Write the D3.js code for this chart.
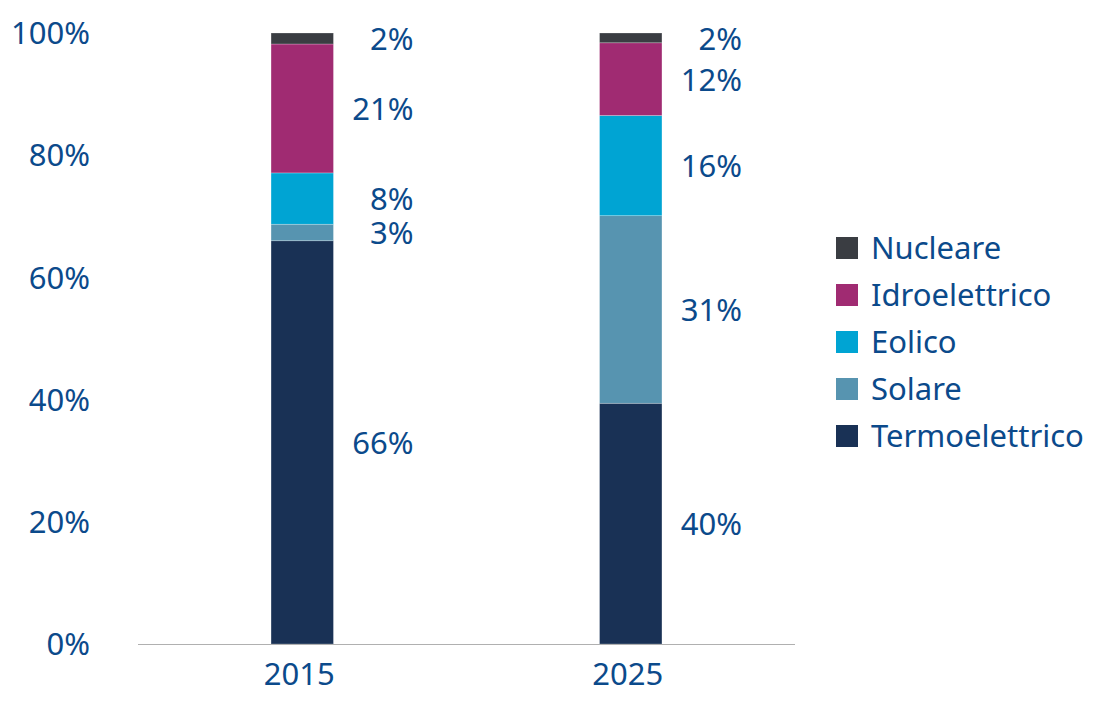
<!doctype html>
<html>
<body>
<style type="text/css">
    html,body{
        margin: 0;
        overflow: hidden;
        background: #fff;
    }
    text {
        font-family: "Noto Sans", Lato, sans-serif;
        fill: #0b4a8b;
    }
</style>
<script src="https://cdn.jsdelivr.net/npm/d3@7"></script>
<script type="text/javascript">
var years = ["2015", "2025"];
var sources = ["Termoelettrico", "Solare", "Eolico", "Idroelettrico", "Nucleare"];
var termoelettrico = [66.0, 39.4];
var solare = [2.7, 30.7];
var eolico = [8.4, 16.4];
var idroelettrico = [21.1, 11.9];
var nucleare = [1.8, 1.6];
var labels = {
    Termoelettrico: ["66%", "40%"],
    Solare: ["3%", "31%"],
    Eolico: ["8%", "16%"],
    Idroelettrico: ["21%", "12%"],
    Nucleare: ["2%", "2%"]
};
var yTicks = [0, 20, 40, 60, 80, 100];
var colors = ["#193155", "#5794b0", "#00a4d3", "#a02b72", "#3a3d42"];

(function(){
    var w = 1103, h = 707, fs = "31px";
    var values = [termoelettrico, solare, eolico, idroelettrico, nucleare];

    var rows = years.map(function(y, i){
        var r = {year: y};
        sources.forEach(function(s, k){ r[s] = values[k][i]; });
        return r;
    });
    var stacked = d3.stack().keys(sources)(rows);

    var svg = d3.select("body").append("svg")
        .attr("width", w)
        .attr("height", h);

    var x = d3.scaleBand().domain(years).range([138, 795])
        .paddingInner(0.81).paddingOuter(0.405);
    var y = d3.scaleLinear().domain([0, 100]).range([644, 33]);
    var color = d3.scaleOrdinal().domain(sources).range(colors);

    // y tick labels
    svg.append("g").selectAll("text").data(yTicks).enter().append("text")
        .attr("x", 90)
        .attr("y", function(d){ return y(d); })
        .attr("dy", "0.36em")
        .attr("text-anchor", "end")
        .style("font-size", fs)
        .text(function(d){ return d + "%"; });

    // bars
    var layer = svg.append("g").selectAll("g").data(stacked).enter().append("g")
        .attr("fill", function(d){ return color(d.key); });
    layer.selectAll("rect").data(function(d){ return d; }).enter().append("rect")
        .attr("x", function(d){ return x(d.data.year); })
        .attr("width", x.bandwidth())
        .attr("y", function(d){ return y(d[1]); })
        .attr("height", function(d){ return y(d[0]) - y(d[1]); })
        .attr("stroke", "rgba(255,255,255,0.35)")
        .attr("stroke-width", 0.7);

    // value labels
    stacked.forEach(function(s){
        svg.append("g").selectAll("text").data(s).enter().append("text")
            .attr("x", function(d){ return x(d.data.year) + x.bandwidth() + 80; })
            .attr("y", function(d){ return y((d[0] + d[1]) / 2) + 1; })
            .attr("dy", "0.35em")
            .attr("text-anchor", "end")
            .style("font-size", fs)
            .text(function(d, i){ return labels[s.key][i]; });
    });

    // x axis
    svg.append("line")
        .attr("x1", 138).attr("x2", 795)
        .attr("y1", y(0) + 0.5).attr("y2", y(0) + 0.5)
        .attr("stroke", "#b0b0b0").attr("stroke-width", 1.2);

    svg.append("g").selectAll("text").data(years).enter().append("text")
        .attr("x", function(d){ return x(d) + x.bandwidth() / 2 - 3; })
        .attr("y", 674)
        .attr("dy", "0.36em")
        .attr("text-anchor", "middle")
        .style("font-size", fs)
        .text(function(d){ return d; });

    // legend
    var legend = svg.append("g").selectAll("g").data(sources.slice().reverse()).enter().append("g")
        .attr("transform", function(d, i){ return "translate(836," + (248 + i * 47) + ")"; });
    legend.append("rect")
        .attr("x", 0).attr("y", -11)
        .attr("width", 22).attr("height", 22)
        .attr("fill", function(d){ return color(d); });
    legend.append("text")
        .attr("x", 35)
        .attr("dy", "0.36em")
        .style("font-size", fs)
        .text(function(d){ return d; });
})();
</script>
</body>
</html>
